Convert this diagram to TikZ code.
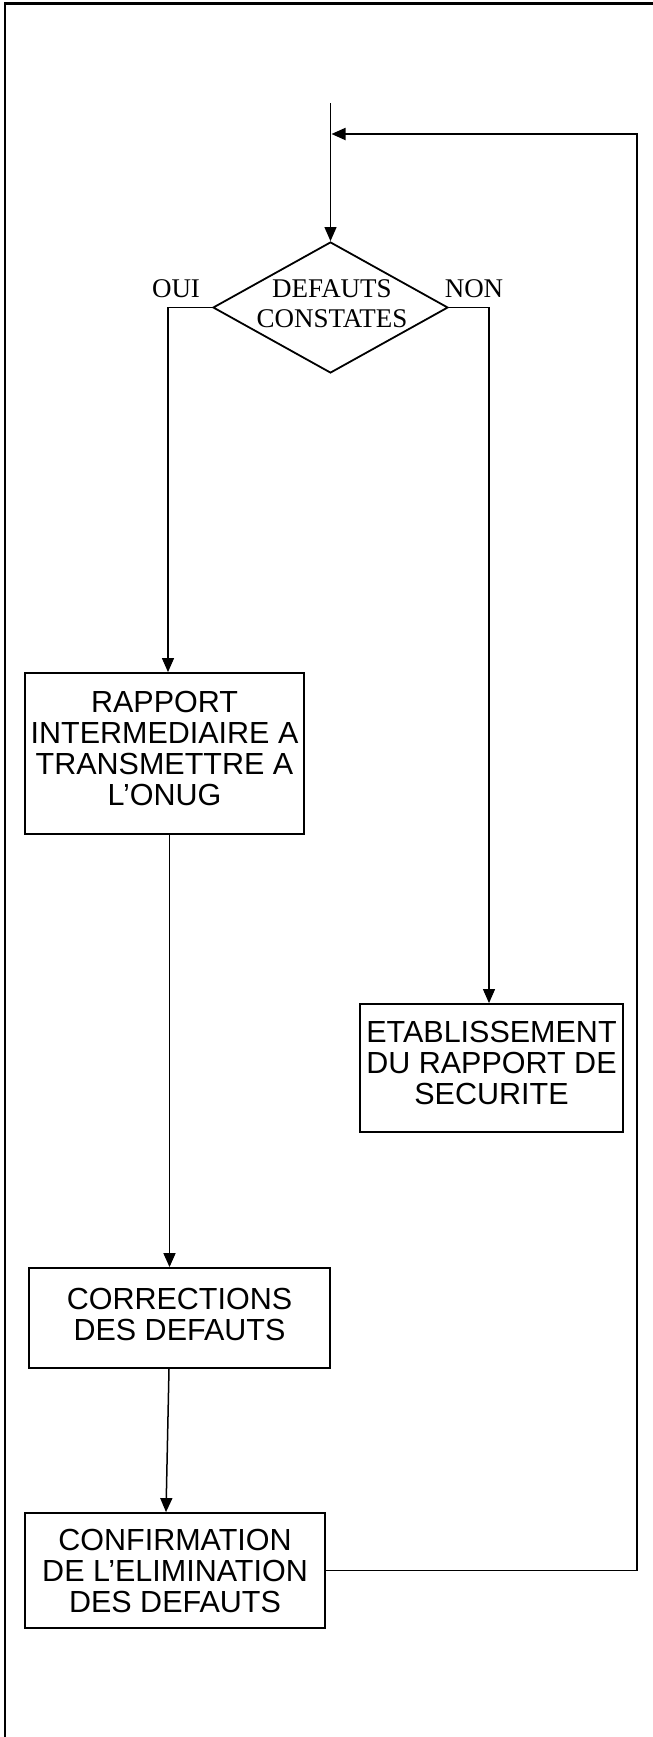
\documentclass[tikz,border=0pt]{standalone}
\usepackage{fontspec}
\setmainfont{Liberation Serif}
\newfontfamily\arialf{Liberation Sans}
\usetikzlibrary{arrows.meta,shapes.geometric,calc}
\begin{document}
\begin{tikzpicture}[x=1pt,y=-1pt,
  boxnode/.style={draw,line width=1.8pt,rectangle,inner sep=0pt,align=center,
    font=\arialf\fontsize{30.5}{31}\selectfont},
  serifnode/.style={inner sep=0pt,align=center,font=\fontsize{27}{30}\selectfont},
  thinarrow/.style={line width=1.1pt,-{Triangle[length=14pt,width=12pt]}},
  thickarrow/.style={line width=1.8pt,-{Triangle[length=14pt,width=12pt]}},
  midarrow/.style={line width=1.5pt,-{Triangle[length=14pt,width=12pt]}},
  framestyle/.style={line width=2.5pt}
]
\useasboundingbox (0,0) rectangle (653,1737);
\fill[white] (0,0) rectangle (653,1737);
\draw[framestyle] (5.2,1740) -- (5.2,3.3) -- (656,3.3);

% decision
\node[diamond,draw,line width=1.8pt,minimum width=235pt,minimum height=131pt,inner sep=0pt] (dec) at (330.5,307.5) {};
\node[serifnode] (dectext) at (332,303.5) {DEFAUTS\\CONSTATES};
\node[serifnode,anchor=base] (oui) at (176,297) {OUI};
\node[serifnode,anchor=base] (non) at (474,297) {NON};

% boxes
\node[boxnode,minimum width=279pt,minimum height=161pt,text depth=11pt] (rap) at (164.5,753.5)
  {RAPPORT\\INTERMEDIAIRE A\\TRANSMETTRE A\\L’ONUG};
\node[boxnode,minimum width=263pt,minimum height=128pt,text depth=10pt] (etab) at (491.5,1068)
  {ETABLISSEMENT\\DU RAPPORT DE\\SECURITE};
\node[boxnode,minimum width=301pt,minimum height=100pt,text depth=8pt] (corr) at (179.5,1318)
  {CORRECTIONS\\DES DEFAUTS};
\node[boxnode,minimum width=300pt,minimum height=115pt] (conf) at (175,1570.5)
  {CONFIRMATION\\DE L’ELIMINATION\\DES DEFAUTS};

% connectors
\coordinate (top) at (330.5,103);
\draw[thinarrow] (top) -- (dec.north);

\coordinate (fbTop) at (637,134);
\coordinate (fbEnd) at (331.5,134);
\draw[thickarrow] (conf.east) -- (conf.east -| fbTop) -- (fbTop) -- (fbEnd);

\coordinate (ouiC) at (168,307.5);
\draw[thinarrow] (dec.west) -- (ouiC) -- (ouiC |- rap.north);

\coordinate (nonC) at (489,307.5);
\draw[thinarrow] (dec.east) -- (nonC) -- (nonC |- etab.north);

\coordinate (rc) at (169.5,0);
\draw[midarrow] (rap.south -| rc) -- (corr.north -| rc);

\coordinate (cc1) at (169,0);
\coordinate (cc2) at (166,0);
\draw[midarrow] (corr.south -| cc1) -- (conf.north -| cc2);
\end{tikzpicture}
\end{document}
